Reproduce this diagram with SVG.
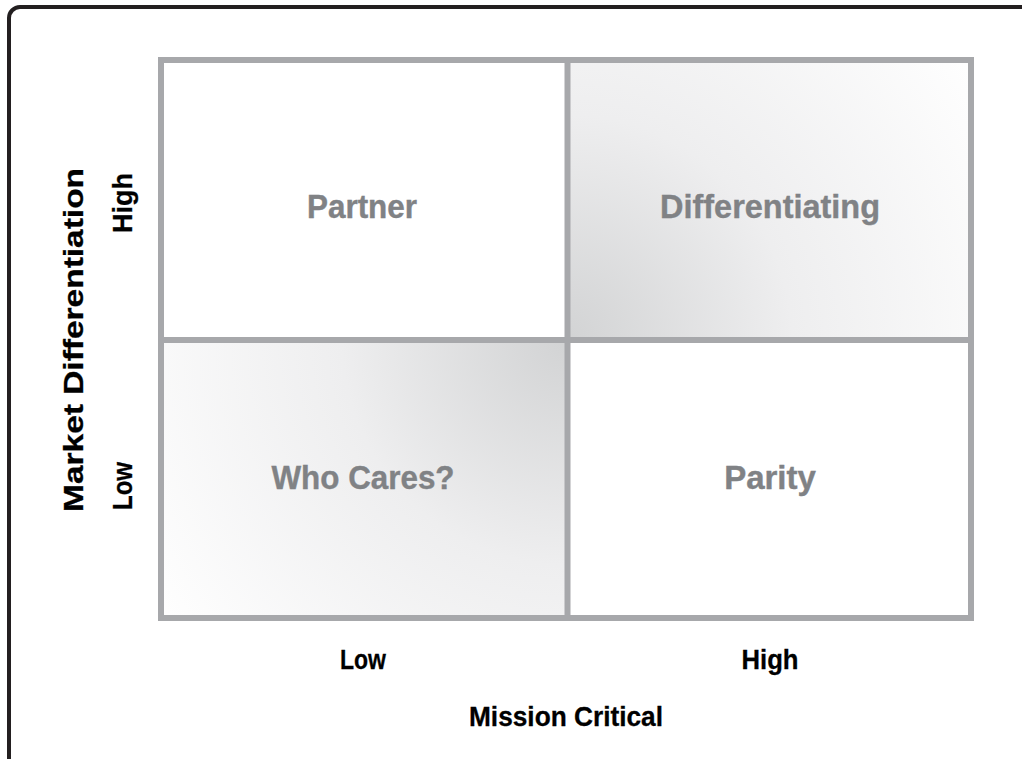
<svg xmlns="http://www.w3.org/2000/svg" width="1022" height="759" viewBox="0 0 1022 759">
<defs>
<radialGradient id="gDiff" gradientUnits="userSpaceOnUse" cx="567" cy="340" r="500">
<stop offset="0" stop-color="#d2d3d4"/>
<stop offset="0.45" stop-color="#eeeeef"/>
<stop offset="1" stop-color="#ffffff"/>
</radialGradient>
<radialGradient id="gWho" gradientUnits="userSpaceOnUse" cx="567" cy="340" r="500">
<stop offset="0" stop-color="#d2d3d4"/>
<stop offset="0.45" stop-color="#eeeeef"/>
<stop offset="1" stop-color="#ffffff"/>
</radialGradient>
</defs>
<style>
.q{font-family:"Liberation Sans",Arial,sans-serif;font-weight:bold;font-size:33px;fill:#808285;stroke:#808285;stroke-width:0.4;text-anchor:middle}
.ax{font-family:"Liberation Sans",Arial,sans-serif;font-weight:bold;font-size:28px;fill:#000;stroke:#000;stroke-width:0.3;text-anchor:middle}
.grid{fill:none;stroke:#a7a8ab;stroke-width:6}
</style>
<rect x="0" y="0" width="1022" height="759" fill="#ffffff"/>
<rect id="frame" x="9" y="7" width="1040" height="790" rx="11" fill="none" stroke="#231f20" stroke-width="4"/>
<g id="quadrant-partner">
<rect x="161" y="60" width="406" height="280" fill="#ffffff"/>
<text class="q" x="362" y="218" textLength="110" lengthAdjust="spacingAndGlyphs">Partner</text>
</g>
<g id="quadrant-differentiating">
<rect x="567" y="60" width="404" height="280" fill="url(#gDiff)"/>
<text class="q" x="770" y="218" textLength="220" lengthAdjust="spacingAndGlyphs">Differentiating</text>
</g>
<g id="quadrant-whocares">
<rect x="161" y="340" width="406" height="278" fill="url(#gWho)"/>
<text class="q" x="363" y="489" textLength="183" lengthAdjust="spacingAndGlyphs">Who Cares?</text>
</g>
<g id="quadrant-parity">
<rect x="567" y="340" width="404" height="278" fill="#ffffff"/>
<text class="q" x="770" y="489">Parity</text>
</g>
<g id="connectors">
<rect class="grid" x="161" y="60" width="810" height="558"/>
<line class="grid" x1="567.5" y1="60" x2="567.5" y2="618"/>
<line class="grid" x1="161" y1="340" x2="971" y2="340"/>
</g>
<g id="axis-labels">
<text class="ax" x="363" y="669" textLength="46" lengthAdjust="spacingAndGlyphs">Low</text>
<text class="ax" x="770" y="669" textLength="57" lengthAdjust="spacingAndGlyphs">High</text>
<text class="ax" x="566" y="726" textLength="194" lengthAdjust="spacingAndGlyphs">Mission Critical</text>
<text class="ax" transform="translate(83 340) rotate(-90)" textLength="344" lengthAdjust="spacingAndGlyphs">Market Differentiation</text>
<text class="ax" transform="translate(132 203) rotate(-90)" textLength="60" lengthAdjust="spacingAndGlyphs">High</text>
<text class="ax" transform="translate(132 486) rotate(-90)" textLength="48" lengthAdjust="spacingAndGlyphs">Low</text>
</g>
</svg>
